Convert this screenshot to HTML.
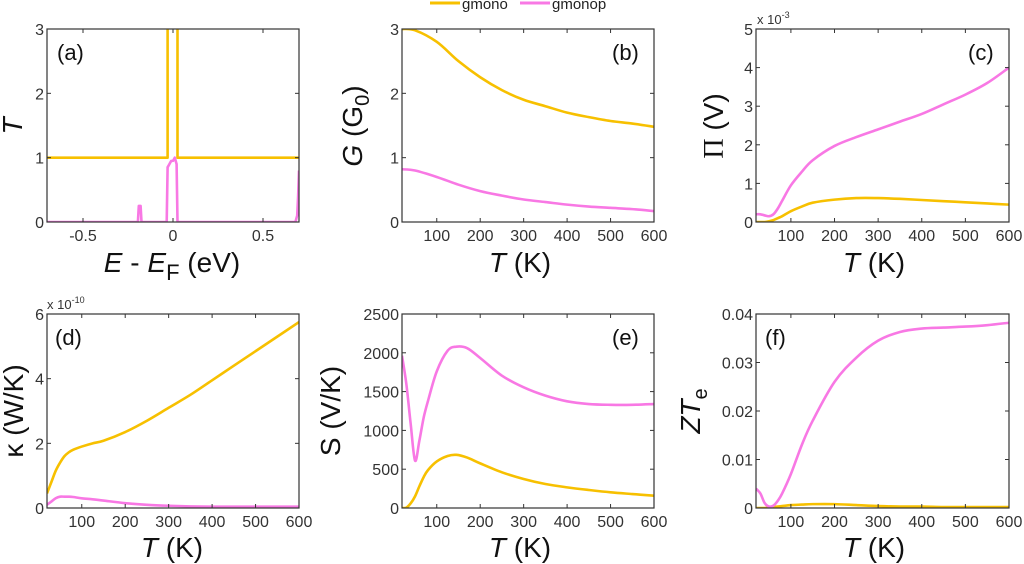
<!DOCTYPE html>
<html><head><meta charset="utf-8"><style>
html,body{margin:0;padding:0;background:#fff;}
svg{display:block;font-family:"Liberation Sans",sans-serif;}
</style></head><body>
<svg id="fig" width="1024" height="564" viewBox="0 0 1024 564" xmlns="http://www.w3.org/2000/svg">
<g id="legend">
  <line x1="430" y1="3" x2="460" y2="3" stroke="#f7c000" stroke-width="3"/>
  <text x="462" y="9" font-size="15" fill="#222">gmono</text>
  <line x1="520" y1="3" x2="550" y2="3" stroke="#f878e4" stroke-width="3"/>
  <text x="552" y="9" font-size="15" fill="#222">gmonop</text>
</g>
</svg>
<script>
// ---- data ----
const aYellowX=[-0.7,-0.03,-0.03,0.025,0.025,0.7];
const aYellowY=[1,1,3.5,3.5,1,1];
const aPinkX=[-0.7,-0.195,-0.19,-0.18,-0.175,-0.035,-0.03,-0.02,-0.01,0,0.01,0.02,0.025,0.68,0.69,0.695,0.7];
const aPinkY=[0,0,0.25,0.25,0,0,0.85,0.9,0.95,0.95,1.0,0.9,0,0,0.1,0.4,0.8];
const bT=[20,50,100,150,200,250,300,350,400,450,500,550,600];
const bGmono=[3.0,2.98,2.8,2.5,2.25,2.05,1.9,1.8,1.7,1.63,1.57,1.53,1.48];
const bGmonop=[0.82,0.8,0.7,0.58,0.48,0.41,0.35,0.31,0.27,0.24,0.22,0.2,0.17];
const T2=[20,30,40,50,60,70,80,100,125,150,200,250,300,350,400,450,500,550,600];
const cGmonop=[0.2,0.2,0.17,0.15,0.2,0.35,0.55,0.95,1.3,1.6,1.97,2.2,2.4,2.6,2.8,3.05,3.3,3.6,4.0];
const cGmono=[0,0,0,0.02,0.05,0.1,0.15,0.28,0.4,0.5,0.58,0.62,0.62,0.6,0.57,0.54,0.51,0.48,0.45];
const dGmonop=[0.1,0.2,0.3,0.35,0.35,0.35,0.34,0.3,0.27,0.23,0.15,0.1,0.07,0.05,0.04,0.04,0.04,0.04,0.04];
const dGmono=[0.45,0.8,1.15,1.4,1.6,1.72,1.8,1.9,2.0,2.08,2.35,2.7,3.1,3.5,3.95,4.4,4.85,5.3,5.75];
const eT=[20,30,40,50,60,70,80,100,125,145,170,200,250,300,350,400,450,500,550,600];
const eGmonop=[1963,1598,1082,610,868,1168,1383,1761,2027,2079,2060,1933,1705,1555,1448,1375,1340,1330,1330,1340];
const eGmono=[0,5,60,150,280,400,490,600,670,685,650,575,460,374,309,266,232,202,180,159];
const fGmonop=[0.004,0.003,0.001,0.0003,0.0005,0.0015,0.003,0.007,0.013,0.018,0.026,0.031,0.0345,0.0363,0.037,0.0372,0.0374,0.0377,0.0382];
const fGmono=[0,0,0,0.0001,0.0002,0.0003,0.0004,0.0006,0.0007,0.0008,0.0008,0.0006,0.0004,0.0003,0.0003,0.0002,0.0002,0.0002,0.0002];
const tTicks=[100,200,300,400,500,600];
const aXTicks=[-0.5,0,0.5];
const aYTicks=[0,1,2,3];
const bYTicks=[0,1,2,3];
const cYTicks=[0,1,2,3,4,5];
const dYTicks=[0,2,4,6];
const eYTicks=[0,500,1000,1500,2000,2500];
const fYTicks=[0,0.01,0.02,0.03,0.04];
const fYLabels=["0","0.01","0.02","0.03","0.04"];

const NS="http://www.w3.org/2000/svg";
const svg=document.getElementById('fig');
const YEL="#f7c000", PNK="#f878e4";
function el(tag,attrs,parent){const e=document.createElementNS(NS,tag);for(const k in attrs)e.setAttribute(k,attrs[k]);(parent||svg).appendChild(e);return e;}
function smooth(pts){
  let d="M"+pts[0][0].toFixed(2)+","+pts[0][1].toFixed(2);
  for(let i=0;i<pts.length-1;i++){
    const p0=pts[Math.max(0,i-1)],p1=pts[i],p2=pts[i+1],p3=pts[Math.min(pts.length-1,i+2)];
    const c1x=p1[0]+(p2[0]-p0[0])/6,c1y=p1[1]+(p2[1]-p0[1])/6;
    const c2x=p2[0]-(p3[0]-p1[0])/6,c2y=p2[1]-(p3[1]-p1[1])/6;
    d+=" C"+c1x.toFixed(2)+","+c1y.toFixed(2)+" "+c2x.toFixed(2)+","+c2y.toFixed(2)+" "+p2[0].toFixed(2)+","+p2[1].toFixed(2);
  }
  return d;
}
function linear(pts){return "M"+pts.map(p=>p[0].toFixed(2)+","+p[1].toFixed(2)).join(" L");}

function panel(o){
  const g=el('g',{});
  
  
  const sx=v=>o.x0+(v-o.xmin)/(o.xmax-o.xmin)*(o.x1-o.x0);
  const sy=v=>o.y1-(v-o.ymin)/(o.ymax-o.ymin)*(o.y1-o.y0);
  const cid='clip-'+o.id;
  const cp=el('clipPath',{id:cid},g);
  el('rect',{x:o.x0,y:o.y0,width:o.x1-o.x0,height:o.y1-o.y0},cp);
  o.series.forEach(s=>{
    const pts=s.x.map((v,i)=>[sx(v),sy(s.y[i])]);
    const p=el('path',{d:s.linear?linear(pts):smooth(pts),fill:'none',stroke:s.color,'stroke-width':2.6,'stroke-linejoin':'round','clip-path':'url(#'+cid+')'},g);
    
    
  });
  const fr=el('rect',{x:o.x0,y:o.y0,width:o.x1-o.x0,height:o.y1-o.y0,fill:'none',stroke:'#333','stroke-width':1.2},g);
  
  
  o.xticks.forEach((v,i)=>{
    const x=sx(v);
    el('line',{x1:x,y1:o.y1,x2:x,y2:o.y1-4,stroke:'#333'},g);
    el('line',{x1:x,y1:o.y0,x2:x,y2:o.y0+4,stroke:'#333'},g);
    const t=el('text',{x:x,y:o.y1+19,'font-size':16,'text-anchor':'middle',fill:'#333'},g);
    t.textContent=o.xlabels?o.xlabels[i]:String(v);
    
    
  });
  o.yticks.forEach((v,i)=>{
    const y=sy(v);
    el('line',{x1:o.x0,y1:y,x2:o.x0+4,y2:y,stroke:'#333'},g);
    el('line',{x1:o.x1,y1:y,x2:o.x1-4,y2:y,stroke:'#333'},g);
    const t=el('text',{x:o.x0-3,y:y+6,'font-size':16,'text-anchor':'end',fill:'#333'},g);
    t.textContent=o.ylabels?o.ylabels[i]:String(v);
    
    
  });
  const pl=el('text',{x:o.plx,y:o.y0+31,'font-size':22,fill:'#111'},g);
  pl.textContent='('+o.id+')';
  
  
  return {g,sx,sy};
}
function html(g,tag,attrs,inner,name){const t=el(tag,attrs,g);t.innerHTML=inner;return t;}

const TOP={y0:29,y1:222}, BOT={y0:314,y1:508};
const C1={x0:47,x1:299}, C2={x0:402,x1:654}, C3={x0:756,x1:1009};

let p=panel(Object.assign({id:'a',xmin:-0.7,xmax:0.7,ymin:0,ymax:3,xticks:aXTicks,yticks:aYTicks,plx:57,
 series:[{name:'gmono',x:aYellowX,y:aYellowY,color:YEL,linear:true},{name:'gmonop',x:aPinkX,y:aPinkY,color:PNK,linear:true}]},C1,TOP));
html(p.g,'text',{x:172,y:272,'font-size':28,'text-anchor':'middle',fill:'#111'},'<tspan font-style="italic">E</tspan> - <tspan font-style="italic">E</tspan><tspan font-size="22" dy="8">F</tspan><tspan dy="-8"> (eV)</tspan>','a-x-axis-title');
html(p.g,'text',{x:0,y:0,'font-size':28,'text-anchor':'middle',fill:'#111',transform:'translate(22,126) rotate(-90)'},'<tspan font-style="italic">T</tspan>','a-y-axis-title');

p=panel(Object.assign({id:'b',xmin:20,xmax:600,ymin:0,ymax:3,xticks:tTicks,yticks:bYTicks,plx:612,
 series:[{name:'gmono',x:bT,y:bGmono,color:YEL},{name:'gmonop',x:bT,y:bGmonop,color:PNK}]},C2,TOP));
html(p.g,'text',{x:520,y:272,'font-size':28,'text-anchor':'middle',fill:'#111'},'<tspan font-style="italic">T</tspan> (K)','b-x-axis-title');
html(p.g,'text',{x:0,y:0,'font-size':28,'text-anchor':'middle',fill:'#111',transform:'translate(362,126) rotate(-90)'},'<tspan font-style="italic">G</tspan> (G<tspan font-size="20" dy="7">0</tspan><tspan dy="-7">)</tspan>','b-y-axis-title');

p=panel(Object.assign({id:'c',xmin:20,xmax:600,ymin:0,ymax:5,xticks:tTicks,yticks:cYTicks,plx:968,
 series:[{name:'gmono',x:T2,y:cGmono,color:YEL},{name:'gmonop',x:T2,y:cGmonop,color:PNK}]},C3,TOP));
html(p.g,'text',{x:874,y:272,'font-size':28,'text-anchor':'middle',fill:'#111'},'<tspan font-style="italic">T</tspan> (K)','c-x-axis-title');
html(p.g,'text',{x:0,y:0,'font-size':28,'text-anchor':'middle',fill:'#111',transform:'translate(723,126) rotate(-90)'},'<tspan font-family="Liberation Serif">Π</tspan> (V)','c-y-axis-title');
html(p.g,'text',{x:757,y:24,'font-size':13,fill:'#333'},'x 10<tspan font-size="9" dy="-6">-3</tspan>','c-exponent-label');

p=panel(Object.assign({id:'d',xmin:20,xmax:600,ymin:0,ymax:6,xticks:tTicks,yticks:dYTicks,plx:55,
 series:[{name:'gmono',x:T2,y:dGmono,color:YEL},{name:'gmonop',x:T2,y:dGmonop,color:PNK}]},C1,BOT));
html(p.g,'text',{x:172,y:557,'font-size':28,'text-anchor':'middle',fill:'#111'},'<tspan font-style="italic">T</tspan> (K)','d-x-axis-title');
html(p.g,'text',{x:0,y:0,'font-size':28,'text-anchor':'middle',fill:'#111',transform:'translate(23,411) rotate(-90)'},'κ (W/K)','d-y-axis-title');
html(p.g,'text',{x:47,y:309,'font-size':13,fill:'#333'},'x 10<tspan font-size="9" dy="-6">-10</tspan>','d-exponent-label');

p=panel(Object.assign({id:'e',xmin:20,xmax:600,ymin:0,ymax:2500,xticks:tTicks,yticks:eYTicks,plx:612,
 series:[{name:'gmono',x:eT,y:eGmono,color:YEL},{name:'gmonop',x:eT,y:eGmonop,color:PNK}]},C2,BOT));
html(p.g,'text',{x:520,y:557,'font-size':28,'text-anchor':'middle',fill:'#111'},'<tspan font-style="italic">T</tspan> (K)','e-x-axis-title');
html(p.g,'text',{x:0,y:0,'font-size':28,'text-anchor':'middle',fill:'#111',transform:'translate(340,411) rotate(-90)'},'S (V/K)','e-y-axis-title');

p=panel(Object.assign({id:'f',xmin:20,xmax:600,ymin:0,ymax:0.04,xticks:tTicks,yticks:fYTicks,ylabels:fYLabels,plx:765,
 series:[{name:'gmono',x:T2,y:fGmono,color:YEL},{name:'gmonop',x:T2,y:fGmonop,color:PNK}]},C3,BOT));
html(p.g,'text',{x:874,y:557,'font-size':28,'text-anchor':'middle',fill:'#111'},'<tspan font-style="italic">T</tspan> (K)','f-x-axis-title');
html(p.g,'text',{x:0,y:0,'font-size':28,'text-anchor':'middle',fill:'#111',transform:'translate(700,411) rotate(-90)'},'<tspan font-style="italic">ZT</tspan><tspan font-size="20" dy="7">e</tspan>','f-y-axis-title');
</script>
</body></html>
